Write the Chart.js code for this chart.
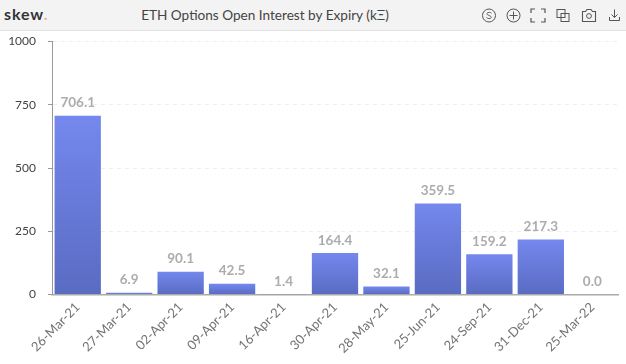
<!DOCTYPE html>
<html>
<head>
<meta charset="utf-8">
<script src="https://cdn.jsdelivr.net/npm/chart.js@4/dist/chart.umd.min.js"></script>
<style>
  html, body { margin: 0; padding: 0; background: #fff; overflow: hidden; }
  #wrap { position: relative; width: 626px; height: 364px; font-family: Lato, sans-serif; }
  #top { position: absolute; left: 0; top: 0; width: 626px; height: 30px; background: #f3f3f3; border-bottom: 1px solid #e2e2e2; }
  #logo { position: absolute; left: 4px; top: 4px; font-size: 16px; font-weight: 700; letter-spacing: 0.9px; color: #333; }
  #logo span { color: #e8b48c; }
  #title { position: absolute; left: 0; top: 7px; width: 530px; text-align: center; font-size: 13.6px; color: #444; }
  #top svg { position: absolute; left: 0; top: 0; }
  canvas { position: absolute; left: 0; top: 0; }
</style>
</head>
<body>
<div id="wrap">
  <canvas id="myChart" width="626" height="364"></canvas>
  <div id="top">
    <div id="logo">skew<span>.</span></div>
    <div id="title">ETH Options Open Interest by Expiry (kΞ)</div>
    <svg width="626" height="30" fill="none" stroke="#555" stroke-width="1">
      <circle cx="489" cy="15.5" r="6.5"/>
      <path d="M491.5 13.2c-.6-1-3.9-1.4-4.6.2-.8 2 4.9 2 4.3 4.2-.5 1.5-3.9 1.2-4.8-.1" stroke-width="0.9"/>
      <circle cx="513.5" cy="15.5" r="6.5"/>
      <path d="M513.5 11.5v8M509.5 15.5h8"/>
      <path d="M531 13v-4h4M541 9h4v4M545 18v4h-4M535 22h-4v-4" stroke-width="1.2"/>
      <rect x="557" y="9.5" width="8" height="8"/>
      <rect x="561" y="13.5" width="8" height="8"/>
      <path d="M582.5 11.5h3l1.5-2h4l1.5 2h3v10h-13z" stroke-width="1.1"/>
      <circle cx="589" cy="16" r="2.4"/>
      <path d="M614.5 9.5v8M611.5 14.5l3 3 3-3M609.5 17v3.5h10V17"/>
    </svg>
  </div>
</div>
<script>
const expiries = ['26-Mar-21', '27-Mar-21', '02-Apr-21', '09-Apr-21', '16-Apr-21', '30-Apr-21', '28-May-21', '25-Jun-21', '24-Sep-21', '31-Dec-21', '25-Mar-22'];
const openInterest = [706.1, 6.9, 90.1, 42.5, 1.4, 164.4, 32.1, 359.5, 159.2, 217.3, 0.0];
const yTicks = [0, 250, 500, 750, 1000];

// value above each bar
const barLabels = {
  id: 'barLabels',
  afterDatasetsDraw(chart) {
    const ctx = chart.ctx;
    const meta = chart.getDatasetMeta(0);
    ctx.save();
    ctx.font = 'bold 13.5px Lato';
    ctx.fillStyle = '#acacac';
    ctx.textAlign = 'center';
    ctx.textBaseline = 'bottom';
    meta.data.forEach((bar, i) => {
      ctx.fillText(openInterest[i].toFixed(1), bar.x, bar.y - 6);
    });
    ctx.restore();
  }
};

function barGradient(context) {
  const chart = context.chart;
  if (!chart.chartArea || context.type !== 'data') return '#6b7fe0';
  const y = chart.scales.y;
  const g = chart.ctx.createLinearGradient(0, y.getPixelForValue(context.parsed.y), 0, y.getPixelForValue(0));
  g.addColorStop(0, '#7488ee');
  g.addColorStop(1, '#5a6bc2');
  return g;
}

const config = {
  type: 'bar',
  data: {
    labels: expiries,
    datasets: [{
      data: openInterest,
      backgroundColor: barGradient,
      categoryPercentage: 1,
      barPercentage: 0.9
    }]
  },
  options: {
    responsive: false,
    animation: false,
    layout: { padding: { top: 41.5, right: 8, left: 0, bottom: 0 } },
    plugins: { legend: { display: false }, tooltip: { enabled: false } },
    scales: {
      x: {
        afterFit(axis) { axis.height = 69.5; },
        grid: { display: false, drawTicks: false },
        border: { color: '#aaa', width: 1.5 },
        ticks: { color: '#737373', font: { family: 'Lato', size: 13 }, minRotation: 45, maxRotation: 45, autoSkip: false, padding: 5 }
      },
      y: {
        min: 0,
        max: 1000,
        afterBuildTicks(axis) { axis.ticks = yTicks.map(v => ({ value: v })); },
        afterFit(axis) { axis.width = 52; },
        grid: { color: '#efefef', tickLength: 4, tickColor: '#999' },
        border: { color: '#999', dash: [4, 4] },
        ticks: { color: '#444', font: { family: 'Lato', size: 12 }, padding: 12, callback: v => String(v) }
      }
    }
  },
  plugins: [barLabels]
};

const myChart = new Chart(document.getElementById('myChart'), config);
</script>
</body>
</html>
